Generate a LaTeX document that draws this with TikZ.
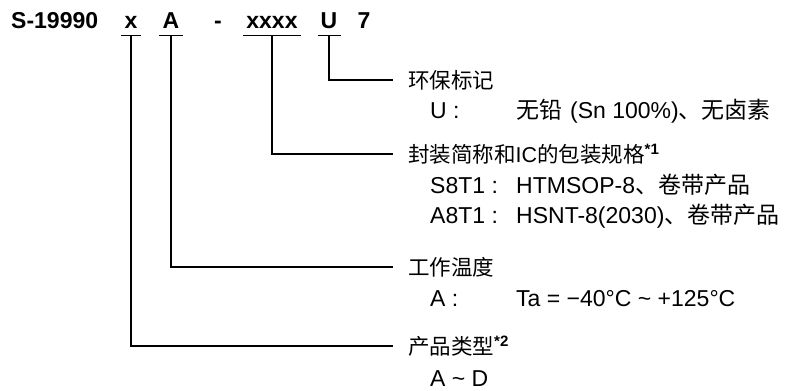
\documentclass[tikz,border=0pt]{standalone}
\usepackage{fontspec}
\setmainfont{Liberation Sans}
\newfontfamily\cjk{Noto Sans CJK SC}

\begin{document}
\begin{tikzpicture}[x=1bp, y=-1bp,
    hdr/.style={font=\fontsize{23bp}{27bp}\selectfont\bfseries, inner sep=0pt, anchor=base},
    code/.style={hdr, inner xsep=3bp, text depth=7bp},
    title/.style={font=\fontsize{21.5bp}{25bp}\selectfont, inner sep=0pt, anchor=base west},
    item/.style={font=\fontsize{23bp}{27bp}\selectfont, inner sep=0pt, anchor=base west},
    lead/.style={line width=1.3bp}]
  \useasboundingbox (0,0) rectangle (792,390);

  % part number
  \node[hdr, anchor=base west] (part) at (11,28) {S-19990};
  \node[code] (cx) at (131,28) {x};
  \node[code] (ca) at (171,28) {A};
  \node[hdr] (dash) at (218,28) {-};
  \node[code] (cpkg) at (272,28) {xxxx};
  \node[code] (cu) at (329,28) {U};
  \node[hdr] (seven) at (364,28) {7};
  \foreach \c in {cx,ca,cpkg,cu}
    \draw[lead] (\c.south west) -- (\c.south east);

  % titles
  \node[title] (tenv) at (408,88) {\cjk 环保标记};
  \node[title] (tpkg) at (408,162) {{\cjk 封装简称和}IC{\cjk 的包装规格}\textsuperscript{\bfseries *1}};
  \node[title] (ttemp) at (408,275) {\cjk 工作温度};
  \node[title] (ttype) at (408,354) {{\cjk 产品类型}\textsuperscript{\bfseries *2}};

  % items
  \node[item] (uk) at (430,118) {U :};
  \node[item] (uv) at (516,118) {{\cjk 无铅}\hspace{8bp}(Sn 100\%){\cjk 、无卤素}};
  \node[item] (s8k) at (430,193) {S8T1 :};
  \node[item] (s8v) at (516,193) {HTMSOP-8{\cjk 、卷带产品}};
  \node[item] (a8k) at (430,223) {A8T1 :};
  \node[item] (a8v) at (516,223) {HSNT-8(2030){\cjk 、卷带产品}};
  \node[item] (ak) at (430,306) {A :};
  \node[item] (av) at (516,306) {Ta = −40°C \textasciitilde\ +125°C};
  \node[item] (ad) at (430,386) {A \textasciitilde\ D};

  % leaders
  \draw[lead] (cu.south) |- ([xshift=-15bp, yshift=8bp]tenv.base west);
  \draw[lead] (cpkg.south) |- ([xshift=-15bp, yshift=8bp]tpkg.base west);
  \draw[lead] (ca.south) |- ([xshift=-15bp, yshift=8bp]ttemp.base west);
  \draw[lead] (cx.south) |- ([xshift=-15bp, yshift=8bp]ttype.base west);
\end{tikzpicture}
\end{document}
